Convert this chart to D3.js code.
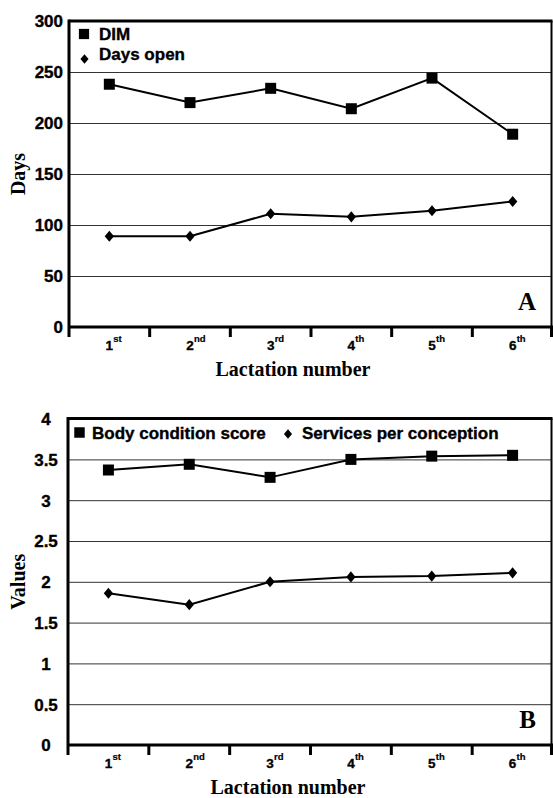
<!DOCTYPE html>
<html>
<head>
<title>Lactation number</title>
<script src="https://cdn.jsdelivr.net/npm/d3@7"></script>
<style>
  body { margin: 0; background: #fff; }
  svg { display: block; }
  .tick-num { font-family: "Liberation Sans", Arial, sans-serif; font-weight: bold; fill: #000; stroke: #000; stroke-width: 0.35px; }
  .axis-title { font-family: "Liberation Serif", "Times New Roman", serif; font-weight: bold; font-size: 20px; fill: #000; }
  .legend { font-family: "Liberation Sans", Arial, sans-serif; font-weight: bold; font-size: 17px; fill: #000; stroke: #000; stroke-width: 0.35px; }
</style>
</head>
<body>
<svg width="553" height="798"></svg>
<script>
// categories
var lactations = ["1", "2", "3", "4", "5", "6"];
var ordinals = ["st", "nd", "rd", "th", "th", "th"];

// panel A
var daysTicks = [0, 50, 100, 150, 200, 250, 300];
var dimDays = [238, 220, 234, 214, 244, 189];
var daysOpen = [89, 89, 111, 108, 114, 123];

// panel B
var valueTicks = [0, 0.5, 1, 1.5, 2, 2.5, 3, 3.5, 4];
var bodyCondition = [3.37, 3.44, 3.28, 3.50, 3.54, 3.55];
var servicesPerConception = [1.86, 1.72, 2.00, 2.06, 2.07, 2.11];

var svg = d3.select("svg");
svg.append("rect").attr("width", 553).attr("height", 798).attr("fill", "#fff");

function drawPanel(p) {
  var x = d3.scaleBand().domain(lactations).range([p.left, 553]).padding(0);
  var y = d3.scaleLinear().domain([0, d3.max(p.ticks)]).range([p.bottom, p.top]);
  var g = svg.append("g");

  // gridlines + y labels
  var yAxis = d3.axisLeft(y)
    .tickValues(p.ticks)
    .tickSize(-(551 - p.left))
    .tickPadding(5)
    .tickFormat(function(d) { return d; });
  var ga = g.append("g").attr("transform", "translate(" + p.left + ",0)").call(yAxis);
  ga.select(".domain").remove();
  ga.selectAll("line").attr("stroke", "#333").attr("stroke-width", 1);
  ga.selectAll("text")
    .attr("class", "tick-num")
    .attr("font-size", 17)
    .attr("dy", "0.35em")
    .attr("text-anchor", p.labelAnchor)
    .attr("x", p.labelX - p.left);

  // frame
  g.append("line").attr("x1", p.left).attr("x2", 552.5).attr("y1", p.top).attr("y2", p.top)
    .attr("stroke", "#000").attr("stroke-width", 3);
  g.append("line").attr("x1", 551.5).attr("x2", 551.5).attr("y1", p.top).attr("y2", p.bottom)
    .attr("stroke", "#000").attr("stroke-width", 2);
  g.append("line").attr("x1", p.left).attr("x2", p.left).attr("y1", p.top - 1.5).attr("y2", p.bottom + 10)
    .attr("stroke", "#000").attr("stroke-width", 3);
  g.append("line").attr("x1", p.left).attr("x2", 553).attr("y1", p.bottom).attr("y2", p.bottom)
    .attr("stroke", "#000").attr("stroke-width", 3);

  // x tick marks at band edges
  var edges = lactations.map(function(d) { return x(d); }).concat([x.range()[1] - 1.5]);
  g.selectAll(".xtick").data(edges.slice(1)).enter().append("line")
    .attr("x1", function(d) { return d; }).attr("x2", function(d) { return d; })
    .attr("y1", p.bottom).attr("y2", p.bottom + 10)
    .attr("stroke", "#000").attr("stroke-width", 3);

  // x labels with superscripts
  var cx = function(d) { return x(d) + x.bandwidth() / 2; };
  g.selectAll(".xl").data(lactations).enter().append("text")
    .attr("class", "tick-num").attr("font-size", 13.5)
    .attr("x", cx).attr("y", p.bottom + 23)
    .attr("text-anchor", "middle")
    .text(function(d) { return d; });
  g.selectAll(".xs").data(lactations).enter().append("text")
    .attr("class", "tick-num").attr("font-size", 9.5)
    .style("stroke-width", "0.2px")
    .attr("x", function(d) { return cx(d) + 4; }).attr("y", p.bottom + 14.5)
    .text(function(d, i) { return ordinals[i]; });

  // series
  var line = d3.line()
    .x(function(d, i) { return cx(lactations[i]); })
    .y(function(d) { return y(d); });
  p.series.forEach(function(s) {
    g.append("path").datum(s.values)
      .attr("d", line).attr("fill", "none")
      .attr("stroke", "#000").attr("stroke-width", 2);
    g.selectAll(null).data(s.values).enter().append("path")
      .attr("d", d3.symbol().type(s.symbol).size(s.size))
      .attr("transform", function(d, i) {
        return "translate(" + cx(lactations[i]) + "," + y(d) + ") scale(1," + s.stretch + ")";
      })
      .attr("fill", "#000");
  });

  // legend
  p.legend.forEach(function(l, i) {
    var s = p.series[i];
    g.append("path")
      .attr("d", d3.symbol().type(s.symbol).size(s.legendSize))
      .attr("transform", "translate(" + l.mx + "," + l.my + ") scale(1," + s.stretch + ")")
      .attr("fill", "#000");
    g.append("text").attr("class", "legend").attr("x", l.tx).attr("y", l.ty).text(s.name);
  });

  // axis titles
  g.append("text").attr("class", "axis-title")
    .attr("transform", "translate(25," + ((p.top + p.bottom) / 2) + ") rotate(-90)")
    .attr("text-anchor", "middle").text(p.yTitle);
  g.append("text").attr("class", "axis-title")
    .attr("x", p.xTitleX).attr("y", p.bottom + 49)
    .attr("text-anchor", "middle").text("Lactation number");

  // panel letter
  g.append("text").attr("class", "axis-title")
    .style("font-size", "25px")
    .attr("x", 536).attr("y", p.bottom - 17)
    .attr("text-anchor", "end").text(p.letter);
}

drawPanel({
  left: 69, top: 21, bottom: 327,
  ticks: daysTicks, labelAnchor: "end", labelX: 63,
  yTitle: "Days", xTitleX: 293, letter: "A",
  series: [
    { name: "DIM", values: dimDays, symbol: d3.symbolSquare, size: 121, legendSize: 105, stretch: 1 },
    { name: "Days open", values: daysOpen, symbol: d3.symbolDiamond2, size: 55, legendSize: 42, stretch: 1.2 }
  ],
  legend: [
    { mx: 84, my: 34, tx: 99, ty: 39.5 },
    { mx: 84.5, my: 59, tx: 99, ty: 60 }
  ]
});

drawPanel({
  left: 68, top: 418.6, bottom: 745,
  ticks: valueTicks, labelAnchor: "middle", labelX: 46,
  yTitle: "Values", xTitleX: 288, letter: "B",
  series: [
    { name: "Body condition score", values: bodyCondition, symbol: d3.symbolSquare, size: 121, legendSize: 110, stretch: 1 },
    { name: "Services per conception", values: servicesPerConception, symbol: d3.symbolDiamond2, size: 55, legendSize: 42, stretch: 1.2 }
  ],
  legend: [
    { mx: 79.5, my: 432.5, tx: 92, ty: 438.5 },
    { mx: 288, my: 434, tx: 302, ty: 438.5 }
  ]
});
</script>
</body>
</html>
